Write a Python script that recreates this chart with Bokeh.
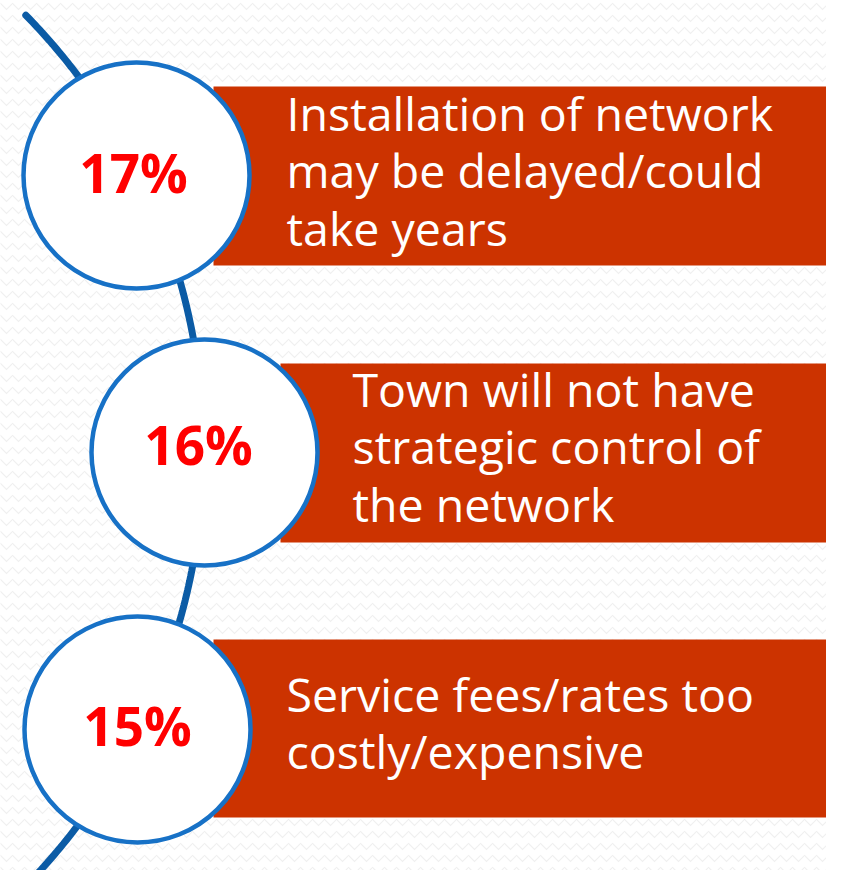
import numpy as np
from bokeh.plotting import figure
from bokeh.models import Range1d
from bokeh.core.properties import value
from bokeh.embed import file_html
from bokeh.resources import INLINE

# ---- data ----
percents = [17, 16, 15]
pct_labels = [f"{v}%" for v in percents]
reasons = [
    ["Installation of network", "may be delayed/could", "take years"],
    ["Town will not have", "strategic control of", "the network"],
    ["Service fees/rates too", "costly/expensive"],
]

# ---- layout (reference pixel coordinates, y downwards) ----
circle_cx = [136, 204, 137]
circle_cy = [175, 452, 729]
circle_r = 113
pct_x = [133, 198, 137]
pct_y = [172, 444, 725]
box_left = [213, 280, 213]
box_top = [86, 363, 639]
box_bottom = [265, 542, 817]
text_x = [286, 352, 286]
text_y0 = [112, 388, 693]
line_step = 57.5

W, H = 826, 870
p = figure(width=W, height=H, output_backend="svg", toolbar_location=None,
           x_range=Range1d(0, W), y_range=Range1d(H, 0),
           min_border=0, outline_line_color=None,
           background_fill_color="#FFFFFF", border_fill_color="#FFFFFF")
p.xaxis.visible = False
p.yaxis.visible = False
p.grid.visible = False

# subtle zig-zag background
p.quad(left=[-10], right=[850], top=[-10], bottom=[900], fill_color="#FFFFFF",
       line_color=None, hatch_pattern="horizontal_wave", hatch_color="#F0F0F0",
       hatch_scale=12, hatch_weight=1.2)

# connector arc
acx, acy, R = -419, 450, 622
t = np.linspace(np.arctan2(15 - acy, 25 - acx), np.arcsin((905 - acy) / R), 200)
p.line(acx + R * np.cos(t), acy + R * np.sin(t), line_color="#0B5BA5", line_width=7, line_cap="round")

# boxes
p.quad(left=box_left, right=[850] * 3, top=box_top, bottom=box_bottom,
       fill_color="#CC3300", line_color=None)

# circles
p.circle(x=circle_cx, y=circle_cy, radius=circle_r, fill_color="#FFFFFF",
         line_color="#1771C6", line_width=4.5)

# percent labels
p.text(x=pct_x, y=pct_y, text=pct_labels, text_color="#FF0000",
       text_font=value("Open Sans"), text_font_style="bold", text_font_size="53px",
       text_align="center", text_baseline="alphabetic")

# reason texts
xs, ys, ts = [], [], []
for i, lines in enumerate(reasons):
    for j, ln in enumerate(lines):
        xs.append(text_x[i])
        ys.append(text_y0[i] + j * line_step)
        ts.append(ln)
p.text(x=xs, y=ys, text=ts, text_color="#FFFFFF", text_font=value("Open Sans"),
       text_font_size="46.5px", text_align="left", text_baseline="alphabetic")

open("out.html", "w").write(file_html(p, INLINE))
